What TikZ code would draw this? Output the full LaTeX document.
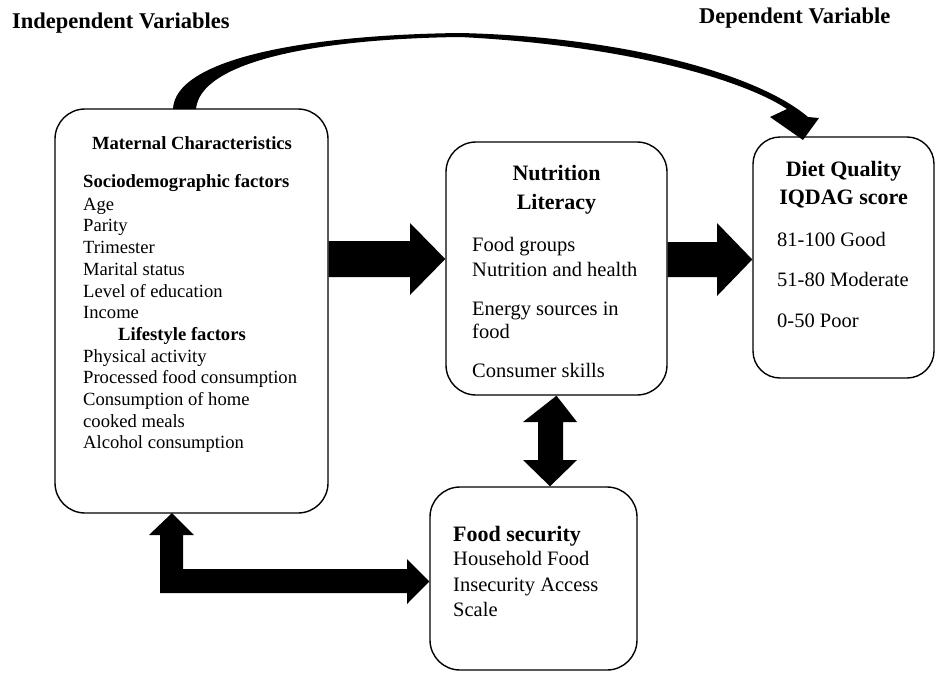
\documentclass[tikz,border=0pt]{standalone}
\usepackage{fontspec}
\setmainfont{Liberation Serif}
\newcommand\fsM{\fontsize{18.6pt}{21.6pt}\selectfont}
\newcommand\fsB{\fontsize{20.5pt}{24pt}\selectfont}
\newcommand\fsT{\fontsize{22pt}{26pt}\selectfont}
\newcommand\fsH{\fontsize{22.5pt}{26pt}\selectfont}
\begin{document}
\begin{tikzpicture}[x=1pt,y=-1pt,
  box/.style={draw, line width=1.4pt, rounded corners=30pt, fill=white, inner sep=0pt},
  lm/.style={anchor=base west, font=\fsM, inner sep=0pt},
  lmb/.style={anchor=base west, font=\fsM\bfseries, inner sep=0pt},
  lb/.style={anchor=base west, font=\fsB, inner sep=0pt},
  tb/.style={anchor=base, font=\fsT\bfseries, inner sep=0pt},
  hd/.style={anchor=base west, font=\fsH\bfseries, inner sep=0pt},
  blockarrow/.style={fill=black}]
\useasboundingbox (0,0) rectangle (936,672);

% headers
\node[hd] (iv) at (12,28) {Independent Variables};
\node[hd] (dv) at (699,23) {Dependent Variable};

% boxes
\node[box, minimum width=273pt, minimum height=404pt] (mat) at (191.5,311) {};
\node[box, minimum width=221pt, minimum height=253pt] (nut) at (556.5,268.5) {};
\node[box, rounded corners=27pt, minimum width=181pt, minimum height=241pt] (diet) at (843.5,257.5) {};
\node[box, minimum width=207pt, minimum height=183pt] (fs) at (533.5,578.5) {};

% maternal characteristics text
\node[anchor=base, font=\fsM\bfseries, inner sep=0pt] (mt) at (192,149) {Maternal Characteristics};
\node[lmb] (m0) at (83,187) {Sociodemographic factors};
\node[lm] (m1) at (83,210) {Age};
\node[lm] (m2) at (83,231.5) {Parity};
\node[lm] (m3) at (83,253) {Trimester};
\node[lm] (m4) at (83,275) {Marital status};
\node[lm] (m5) at (83,297) {Level of education};
\node[lm] (m6) at (83,318) {Income};
\node[lmb] (m7) at (118,340) {Lifestyle factors};
\node[lm] (m8) at (83,362) {Physical activity};
\node[lm] (m9) at (83,383) {Processed food consumption};
\node[lm] (m10) at (83,405) {Consumption of home};
\node[lm] (m11) at (83,427) {cooked meals};
\node[lm] (m12) at (83,448) {Alcohol consumption};

% nutrition literacy text
\node[tb] (nt1) at (556.5,180) {Nutrition};
\node[tb] (nt2) at (556.5,209) {Literacy};
\node[lb] (n1) at (472,251) {Food groups};
\node[lb] (n2) at (472,276) {Nutrition and health};
\node[lb] (n3) at (472,315) {Energy sources in};
\node[lb] (n4) at (472,338) {food};
\node[lb] (n5) at (472,377) {Consumer skills};

% diet quality text
\node[tb] (dt1) at (843.5,176) {Diet Quality};
\node[tb] (dt2) at (843.5,204) {IQDAG score};
\node[lb] (d1) at (777,246) {81-100 Good};
\node[lb] (d2) at (777,286) {51-80 Moderate};
\node[lb] (d3) at (777,327) {0-50 Poor};

% food security text
\node[anchor=base west, font=\fsT\bfseries, inner sep=0pt] (ft) at (453,541) {Food security};
\node[lb] (f1) at (453,565.5) {Household Food};
\node[lb] (f2) at (453,591) {Insecurity Access};
\node[lb] (f3) at (453,616.5) {Scale};

% block arrows
\fill[blockarrow] (mat.east |- 0,241) -- (410,241) -- (410,223) -- (nut.west |- 0,259) -- (410,295) -- (410,277) -- (mat.east |- 0,277) -- cycle;
\fill[blockarrow] (nut.east |- 0,242) -- (717,242) -- (717,223) -- (diet.west |- 0,259.5) -- (717,296) -- (717,277) -- (nut.east |- 0,277) -- cycle;
\fill[blockarrow] (nut.south) -- (577,422) -- (563,422) -- (563,460) -- (577,460) -- (fs.north -| 550,0) -- (523,460) -- (538,460) -- (538,422) -- (523,422) -- cycle;
\fill[blockarrow] (172,513) -- (194,535) -- (183,535) -- (183,569) -- (407,569) -- (407,559) -- (fs.west |- 0,581.5) -- (407,604) -- (407,593) -- (160,593) -- (160,535) -- (149,535) -- cycle;

% curved arrow
\fill[blockarrow] (173,109) .. controls (175,60) and (300,35) .. (460,33)
  .. controls (630,37) and (760,76) .. (808,117) -- (819,118) -- (803,140)
  -- (770,117) -- (787,109) .. controls (740,78) and (620,45) .. (460,37)
  .. controls (310,39) and (200,63) .. (196,109) -- cycle;
\end{tikzpicture}
\end{document}
